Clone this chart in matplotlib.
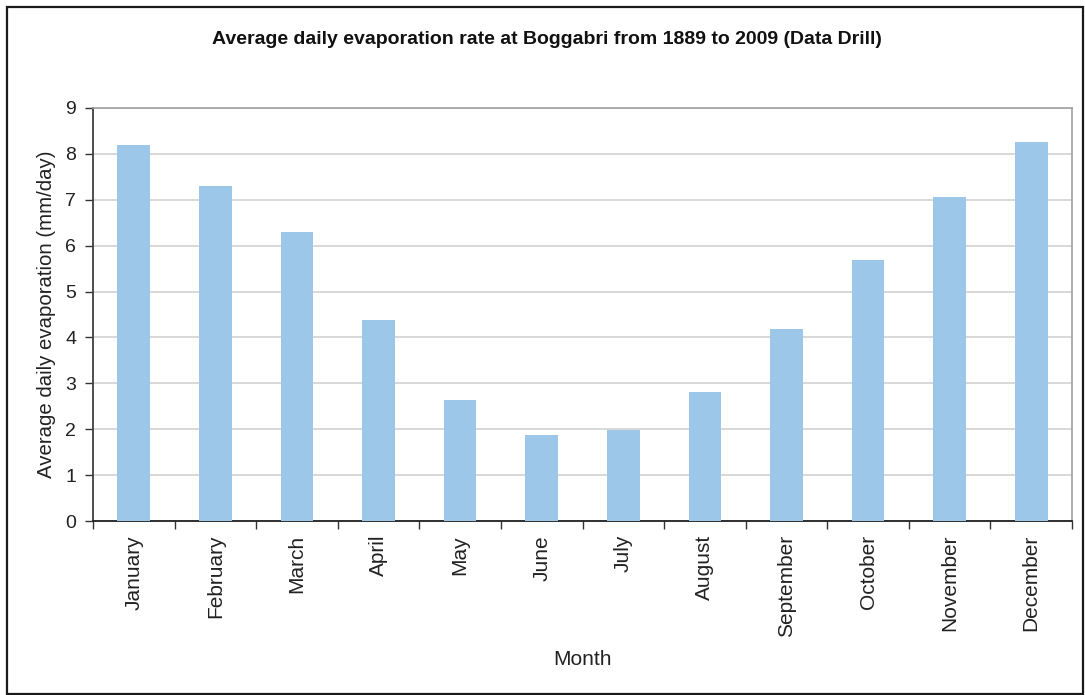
import matplotlib
matplotlib.use('Agg')
import matplotlib.pyplot as plt
from matplotlib.patches import Rectangle
from matplotlib.ticker import FixedLocator, NullFormatter

# Evaporación media diaria por mes (mm/día)
meses = ['January', 'February', 'March', 'April', 'May', 'June',
         'July', 'August', 'September', 'October', 'November', 'December']
evaporacion = [8.20, 7.29, 6.29, 4.38, 2.64, 1.88,
               1.99, 2.81, 4.18, 5.68, 7.07, 8.25]
ticks_y = [0, 1, 2, 3, 4, 5, 6, 7, 8, 9]

plt.rcParams['font.family'] = ['Liberation Sans', 'DejaVu Sans']

fig = plt.figure(figsize=(10.85, 6.95), dpi=100)
fig.set_facecolor('w')
ax = fig.add_axes([93 / 1085., 1 - 521 / 695., (1072 - 93) / 1085., (521 - 108) / 695.])

x = list(range(len(meses)))
ax.bar(x, evaporacion, width=0.4, color='#9dc7e9', zorder=3)

ax.set_xlim(-0.5, len(meses) - 0.5)
ax.set_ylim(0, 9)
ax.set_yticks(ticks_y)
ax.yaxis.grid(True, color='#d6d6d6', linewidth=1.3, zorder=0)

# Rótulos de meses centrados, marcas entre categorías
ax.set_xticks(x)
ax.set_xticklabels(meses, rotation=90, fontsize=15, color='#222222')
ax.tick_params(axis='x', which='major', length=0, pad=10)
ax.xaxis.set_minor_locator(FixedLocator([i - 0.5 for i in range(len(meses) + 1)]))
ax.xaxis.set_minor_formatter(NullFormatter())
ax.tick_params(axis='x', which='minor', length=6, width=1, color='#333333', direction='out')
ax.tick_params(axis='y', length=6, width=1, color='#333333', labelsize=14,
               labelcolor='#222222', pad=6)

for lado in ('top', 'right'):
    ax.spines[lado].set_color('#a0a0a0')
    ax.spines[lado].set_linewidth(1.2)
ax.spines['left'].set_color('#404040')
ax.spines['left'].set_linewidth(1.3)
ax.spines['bottom'].set_color('#202020')
ax.spines['bottom'].set_linewidth(1.3)

ax.set_ylabel('Average daily evaporation (mm/day)', fontsize=14.7,
              color='#222222', labelpad=7)
ax.set_xlabel('Month', fontsize=15, color='#222222', labelpad=9)

fig.text(0.5 * (208 + 886) / 1085., 1 - 40 / 695.,
         'Average daily evaporation rate at Boggabri from 1889 to 2009 (Data Drill)',
         fontsize=14, fontweight='bold', ha='center', va='center', color='#111111')

# Marco exterior del gráfico
fig.patches.append(Rectangle((7 / 1085., 1 / 695.), 1076 / 1085., 687 / 695.,
                             transform=fig.transFigure, fill=False,
                             edgecolor='#1a1a1a', linewidth=1.6))

fig.savefig('out.png', dpi=100)
